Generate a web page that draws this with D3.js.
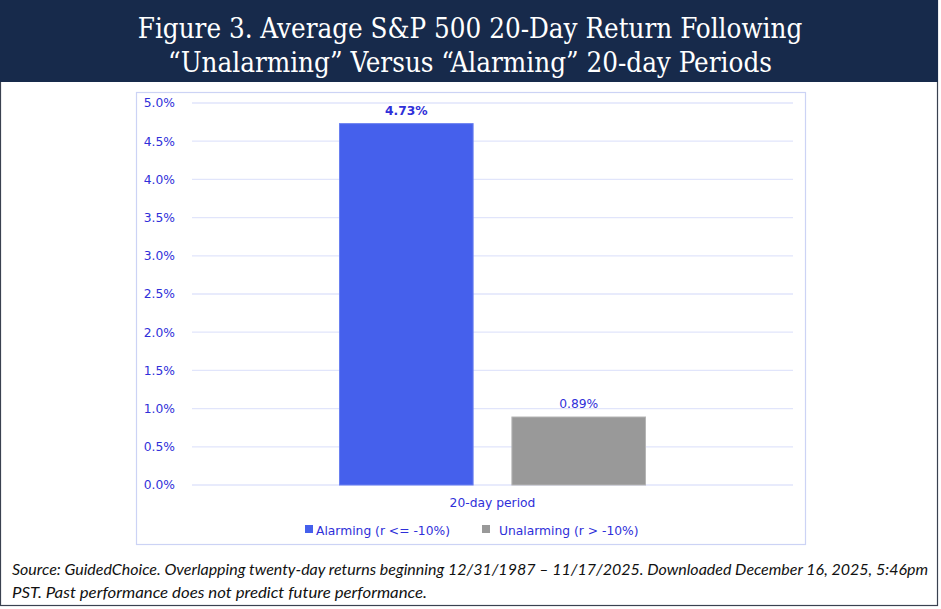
<!DOCTYPE html>
<html><head><meta charset="utf-8">
<script src="https://cdn.jsdelivr.net/npm/d3@7"></script>
<style>
html,body{margin:0;padding:0;background:#fff;}
</style></head>
<body>
<svg id="c" width="941" height="609"></svg>
<script>
const titleLines = ["Figure 3. Average S&P 500 20-Day Return Following", "\u201CUnalarming\u201D Versus \u201CAlarming\u201D 20-day Periods"];
const categories = ["20-day period"];
const seriesNames = ["Alarming (r <= -10%)", "Unalarming (r > -10%)"];
const seriesValues = [4.73, 0.89];
const seriesColors = ["#4560ec", "#999999"];
const yTicks = [0, 0.5, 1.0, 1.5, 2.0, 2.5, 3.0, 3.5, 4.0, 4.5, 5.0];
const footLines = ["Source: GuidedChoice. Overlapping twenty-day returns beginning 12/31/1987 \u2013 11/17/2025. Downloaded December 16, 2025, 5:46pm", "PST. Past performance does not predict future performance."];

const svg = d3.select("#c");
// outer frame
svg.append("rect").attr("x",0.5).attr("y",0.5).attr("width",937).attr("height",605)
  .attr("fill","#fff").attr("stroke","#3a4150").attr("stroke-width",1.2);
svg.append("rect").attr("x",0).attr("y",0).attr("width",938).attr("height",82).attr("fill","#172a4b");
svg.selectAll("text.title").data(titleLines).join("text").attr("class","title")
  .attr("x",470).attr("y",(d,i)=>38+i*34).attr("text-anchor","middle")
  .attr("fill","#fff").attr("font-family","'DejaVu Serif Condensed','DejaVu Serif',serif")
  .attr("font-size",27.5).text(d=>d);

// chart box
svg.append("rect").attr("x",136.5).attr("y",92.5).attr("width",669).attr("height",452)
  .attr("fill","#fff").attr("stroke","#ccd3f5").attr("stroke-width",1.2);

const y = d3.scaleLinear().domain([0,5]).range([485,103]);
const x0 = d3.scaleBand().domain(categories).range([192,793]).paddingInner(0).paddingOuter(0.482);
const x1 = d3.scaleBand().domain(seriesNames).range([0,x0.bandwidth()]).paddingInner(0.225);

const txtCol = "#2f2fd9";
const fs = 12.3;
const g = svg.append("g");
const yAxis = d3.axisLeft(y).tickValues(yTicks).tickFormat(d=>d.toFixed(1)+"%").tickSize(0).tickPadding(0);
const ya = g.append("g").attr("transform","translate(175,0)").call(yAxis);
ya.select(".domain").remove();
ya.selectAll("text").attr("fill",txtCol).attr("font-family","'DejaVu Sans',sans-serif").attr("font-size",fs);

g.selectAll("line.grid").data(yTicks).join("line").attr("class","grid")
  .attr("x1",192).attr("x2",793).attr("y1",d=>y(d)).attr("y2",d=>y(d))
  .attr("stroke","#e1e5fb").attr("stroke-width",1.3);

const bars = g.selectAll("g.cat").data(categories).join("g").attr("transform",d=>`translate(${x0(d)},0)`);
bars.selectAll("rect").data(seriesNames.map((s,i)=>({s,v:seriesValues[i],c:seriesColors[i],i})))
  .join("rect").attr("x",d=>x1(d.s)).attr("width",x1.bandwidth())
  .attr("y",d=>y(d.v)).attr("height",d=>y(0)-y(d.v)).attr("fill",d=>d.c)
  .attr("stroke",d=>d.i===0?"#6a80f0":"#b5b5b5").attr("stroke-width",1);
bars.selectAll("text").data(seriesNames.map((s,i)=>({s,v:seriesValues[i],i})))
  .join("text").attr("x",d=>x1(d.s)+x1.bandwidth()/2).attr("y",d=>y(d.v)-9)
  .attr("text-anchor","middle").attr("fill",txtCol).attr("font-family","'DejaVu Sans',sans-serif")
  .attr("font-size",fs).attr("font-weight",d=>d.i===0?"bold":"normal").text(d=>d.v.toFixed(2)+"%");

svg.selectAll("text.xlab").data(categories).join("text").attr("class","xlab")
  .attr("x",d=>x0(d)+x0.bandwidth()/2).attr("y",507).attr("text-anchor","middle")
  .attr("fill",txtCol).attr("font-family","'DejaVu Sans',sans-serif").attr("font-size",fs).text(d=>d);

// legend
const legX = [305, 482];
const leg = svg.selectAll("g.leg").data(seriesNames).join("g").attr("class","leg")
  .attr("transform",(d,i)=>`translate(${legX[i]},0)`);
leg.append("rect").attr("x",0).attr("y",525).attr("width",8).attr("height",8).attr("fill",(d,i)=>seriesColors[i]);
leg.append("text").attr("x",(d,i)=>i===0?11:17).attr("y",535).attr("fill",txtCol)
  .attr("font-family","'DejaVu Sans',sans-serif").attr("font-size",fs).text(d=>d);

// footer
const footLen = [916, 415];
svg.selectAll("text.foot").data(footLines).join("text").attr("class","foot")
  .attr("x",12).attr("y",(d,i)=>575+i*23).attr("fill","#111")
  .attr("font-family","Lato,sans-serif").attr("font-style","italic").attr("font-size",15)
  .attr("textLength",(d,i)=>footLen[i]).attr("lengthAdjust","spacingAndGlyphs")
  .text(d=>d);
</script>
</body></html>
